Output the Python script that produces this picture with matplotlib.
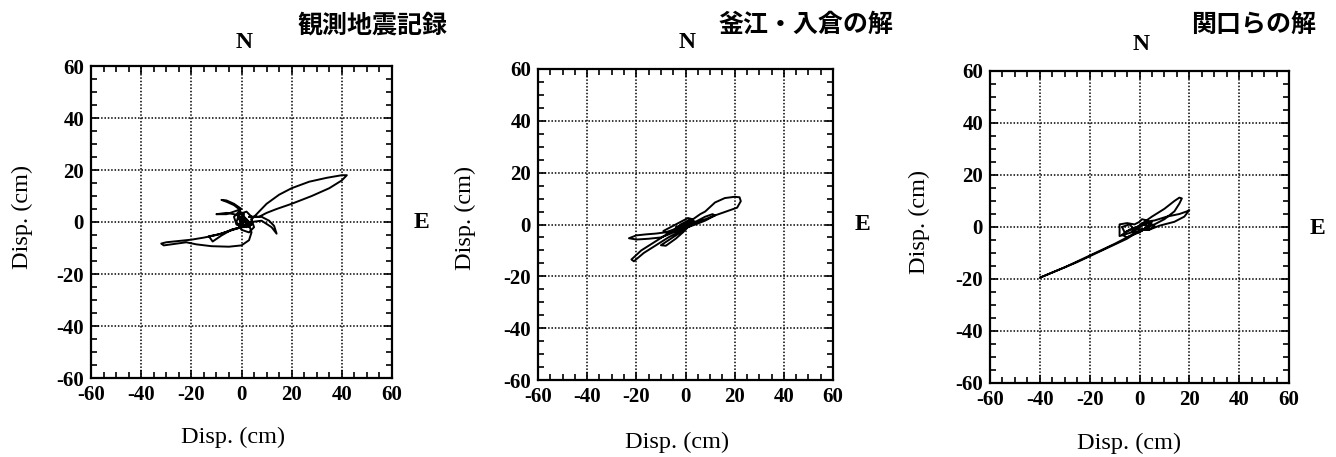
import matplotlib.pyplot as plt
from matplotlib.ticker import MultipleLocator

plt.rcParams['font.family'] = ['Liberation Serif', 'Noto Sans CJK JP']
plt.rcParams['axes.unicode_minus'] = False

# particle orbits (E-W, N-S displacement in cm)
obs_x = [0, 1, -1, -3, -2, 1, 4, 4, 2, -1, -2, 0, 3, 5, 4,
         6, 10, 15, 20, 27, 34, 40, 42, 40, 35, 28, 20, 14, 10, 7,
         3, 8, 11, 13, 14, 12, 8, 4,
         0, -5, -10, -15, -20, -25, -30, -32, -31, -28, -22,
         -18, -12, -5, 0, 3, 4, 3,
         -4, -8, -13, -11.5, -8, -4, 0,
         0, -3, -6, -10, -6, -3, 0, -3, -6, -8, -6, -3, -1, 0,
         2, -1, 1, 3, 2, -1, 0, 2, 3, 1, -1, 2, 4, 1]
obs_y = [0, 3, 4, 2, -1, -2, -1, 2, 4, 3, 0, -3, -4, -2, 1,
         3, 7, 10.5, 13, 15.5, 17, 18, 18, 16, 13, 10, 7, 5, 3.5, 2,
         2, 2, 0.5, -1.5, -4.5, -2, 0.5, 0,
         -2, -3.5, -5, -6, -6.8, -7.3, -7.8, -8.3, -9, -8.6, -7.8,
         -8.6, -9.3, -9.5, -9, -7, -4, -1,
         -3, -4.5, -5.5, -7.5, -5.2, -3, -2,
         2, 3, 3.5, 3, 3, 4, 5, 7, 8.3, 8.5, 7.8, 6.5, 5, 3,
         1, -1, 1, -2, 0, 2, -1, 1, 0, 2, 1, -2, -1, 0]

kamae_x = [0, 3, 6, 8, 12, 16, 20, 22, 22.5, 21, 18, 12, 8, 5, 2,
           -2, -5, -8, -12, -16, -20, -23, -20, -15, -10, -6, -3,
           -1, 2, 4, 1, -3, -7, -9, -6, -2, 1, 3,
           -3, -8, -13, -18, -22, -21, -17, -12, -7, -3, 0,
           -2, -6, -10, -8, -4, -1, 2, 5, 8, 11, 12, 8, 4, 1,
           -3, -5, -2, 2, 4, 0, -2, 1, 3, 0, -4, -1, 3, 5, 1, -2, 0]
kamae_y = [0, 2, 4, 5, 8.5, 10.2, 10.7, 10.5, 9, 6.5, 5.5, 3.5, 2, 1, 0.5,
           -1, -2, -3, -3.5, -3.8, -4.2, -5.3, -5.8, -5.5, -5, -3.5, -2,
           -0.5, 1, 1, -1, -2, -3.5, -2.5, -1, 1, 2.5, 2,
           -1, -4, -7, -10, -13.5, -14.2, -11, -8, -5, -3, -1,
           -3, -5.5, -8, -8.2, -5.5, -3, 0, 1.5, 3, 4, 3.5, 1.5, 0, -1,
           -2.5, -3, 0, 2, 1, -1.5, -2, 0, 1, 0, -1, -2, 0.5, 1, -1, -1, 0]

seki_x = [0, -3, -8, -8, -5, -2, 0, 1, 3, 4, 2, -1,
          -5, -15, -25, -35, -40, -38, -30, -20, -10, -5, 0,
          3, 6, 10, 14, 16, 17, 16, 14, 10, 5, 2,
          6, 11, 16, 19, 20, 18, 14, 8, 4,
          1, -2, -5, -7, -4, -1, 2, 5, 3, 0, -3, -1, 2, 4, 1, -2, 0,
          -6, -7, -4, -2, 1, 3, 6, 4, 0]
seki_y = [0, -2, -3.5, 1, 1.5, 1, 2, 3, 2.5, 1, -1, -2,
          -4.5, -9, -13.5, -17.5, -19.5, -18.7, -15.5, -11, -6.5, -4, -2,
          0, 1, 3, 6, 9, 11, 11.3, 10, 7, 4, 2,
          2.5, 4, 5, 6, 6.5, 4, 2, 0.5, -1,
          -1, -2.5, -4, -3, -1, 0, 1, 2, 0, -2, -2, 0, 1, 0, -1, -1, 0,
          -2, 0, 1, -1, 1.5, 2, 0.5, -1, -1]

titles = ['観測地震記録', '釜江・入倉の解', '関口らの解']
ticks = [-60, -40, -20, 0, 20, 40, 60]

W, H = 1336, 457
fig = plt.figure(figsize=(W / 100, H / 100), dpi=100)


def px(x, y):
    return x / W, 1 - y / H


# axes boxes in pixels: left, top, right, bottom
boxes = [(91, 66, 392, 378), (538, 69, 833, 380), (990, 71, 1289, 383)]
title_pos = [(448, 25), (893, 25), (1316, 25)]
n_pos = [(244, 42), (687, 42), (1141, 45)]
e_pos = [(421, 223), (862, 225), (1317, 229)]
xl_pos = [(233, 437), (677, 442), (1129, 443)]
yl_pos = [(22, 217), (465, 218), (919, 222)]
data = [(obs_x, obs_y), (kamae_x, kamae_y), (seki_x, seki_y)]

for i in range(3):
    l, t, r, b = boxes[i]
    ax = fig.add_axes([l / W, 1 - b / H, (r - l) / W, (b - t) / H])
    ax.plot(data[i][0], data[i][1], color='black', lw=1.4)
    ax.set_xlim(-60, 60)
    ax.set_ylim(-60, 60)
    ax.set_xticks(ticks)
    ax.set_yticks(ticks)
    ax.xaxis.set_minor_locator(MultipleLocator(5))
    ax.yaxis.set_minor_locator(MultipleLocator(5))
    ax.tick_params(which='both', direction='in', top=True, right=True, width=1.2)
    ax.tick_params(which='major', length=6, labelsize=15, pad=5)
    ax.tick_params(which='minor', length=4)
    for lab in ax.get_xticklabels() + ax.get_yticklabels():
        lab.set_fontweight('bold')
    ax.grid(True, which='major', color='black', linestyle=(0, (1, 1.2)), lw=1.1)
    for s in ax.spines.values():
        s.set_linewidth(1.6)

    fig.text(*px(*title_pos[i]), titles[i], ha='right', va='center',
             fontsize=18, fontweight='bold', family=['Noto Sans CJK JP'])
    fig.text(*px(*n_pos[i]), 'N', ha='center', va='center', fontsize=17, fontweight='bold')
    fig.text(*px(*e_pos[i]), 'E', ha='center', va='center', fontsize=17, fontweight='bold')
    fig.text(*px(*xl_pos[i]), 'Disp. (cm)', ha='center', va='center', fontsize=17.5)
    fig.text(*px(*yl_pos[i]), 'Disp. (cm)', ha='center', va='center', fontsize=17.5,
             rotation=90)

fig.savefig('out.png', dpi=100)
